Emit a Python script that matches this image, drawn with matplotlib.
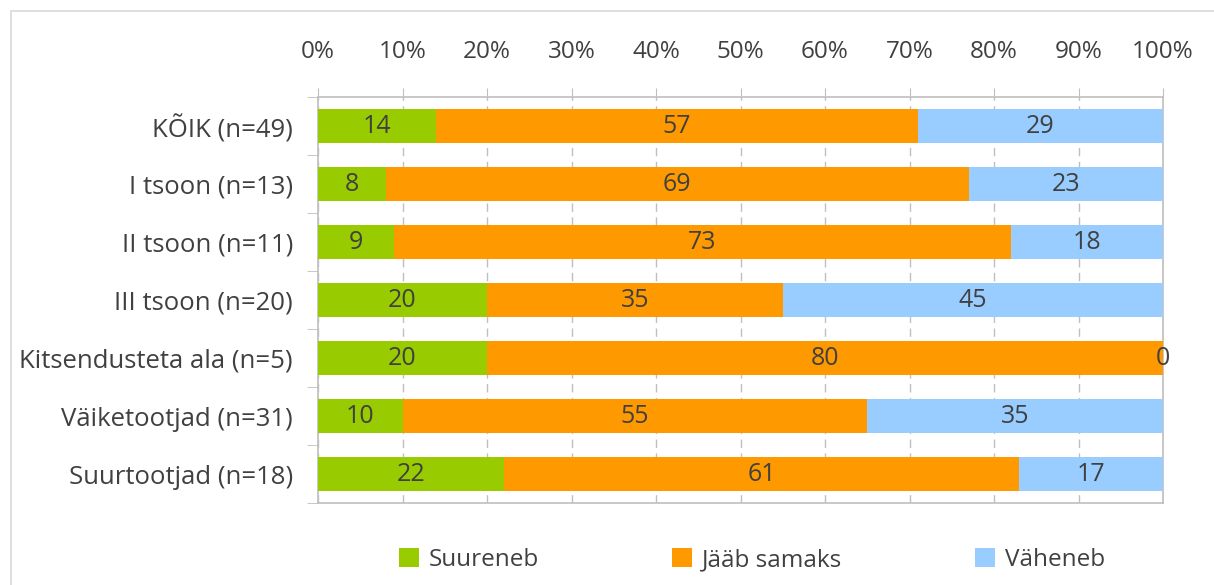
import matplotlib.pyplot as plt
import numpy as np
from matplotlib.patches import Rectangle

plt.rcParams['font.family'] = ['Open Sans', 'DejaVu Sans']

categories = ["KÕIK (n=49)", "I tsoon (n=13)", "II tsoon (n=11)", "III tsoon (n=20)",
              "Kitsendusteta ala (n=5)", "Väiketootjad (n=31)", "Suurtootjad (n=18)"]
suureneb = [14, 8, 9, 20, 20, 10, 22]
jaab_samaks = [57, 69, 73, 35, 80, 55, 61]
vaheneb = [29, 23, 18, 45, 0, 35, 17]
series_names = ["Suureneb", "Jääb samaks", "Väheneb"]
colours = ["#99CC00", "#FF9900", "#99CCFF"]
ticks = np.arange(0, 101, 10)

txt = "#404040"
grid_col = "#BFBFBF"
fs = 17.5

fig = plt.figure(figsize=(12.14, 5.85), dpi=100)
ax = fig.add_axes([318 / 1214, 1 - 503 / 585, (1163 - 318) / 1214, (503 - 97) / 585])

# outer chart border
fig.patches.append(Rectangle((11 / 1214, -0.05), 1.1, 1 - 11 / 585 + 0.05,
                             transform=fig.transFigure, fill=False,
                             edgecolor="#D9D9D9", linewidth=1.2))

y = np.arange(len(categories))
left = np.zeros(len(categories))
for vals, name, col in zip([suureneb, jaab_samaks, vaheneb], series_names, colours):
    vals = np.array(vals, dtype=float)
    ax.barh(y, vals, left=left, height=0.58, color=col, label=name, zorder=3)
    for yi, l, v in zip(y, left, vals):
        ax.text(l + v / 2, yi, "%d" % v, ha="center", va="center",
                fontsize=18, color=txt, zorder=4)
    left += vals

ax.set_xlim(0, 100)
ax.set_ylim(len(categories) - 0.5, -0.5)
ax.xaxis.tick_top()
ax.set_xticks(ticks)
ax.set_xticklabels(["%d%%" % t for t in ticks])
ax.tick_params(axis="x", length=6.5, color=grid_col, labelsize=fs, labelcolor=txt, pad=17)
ax.set_yticks(y)
ax.set_yticklabels(categories)
ax.set_yticks(np.arange(len(categories) + 1) - 0.5, minor=True)
ax.tick_params(axis="y", which="major", length=0, labelsize=18.5, labelcolor=txt, pad=18)
ax.tick_params(axis="y", which="minor", length=8, color=grid_col)
ax.grid(axis="x", color=grid_col, linestyle=(0, (6, 4)), linewidth=1, zorder=0)
for s in ax.spines.values():
    s.set_color(grid_col)
    s.set_linewidth(1.2)

fig.legend(loc="center", bbox_to_anchor=(752 / 1214, 1 - 560 / 585), ncol=3,
           frameon=False, fontsize=fs, labelcolor=txt, handlelength=0.8,
           handleheight=0.8, handletextpad=0.4, columnspacing=5.5)

fig.savefig("out.png", dpi=100)
